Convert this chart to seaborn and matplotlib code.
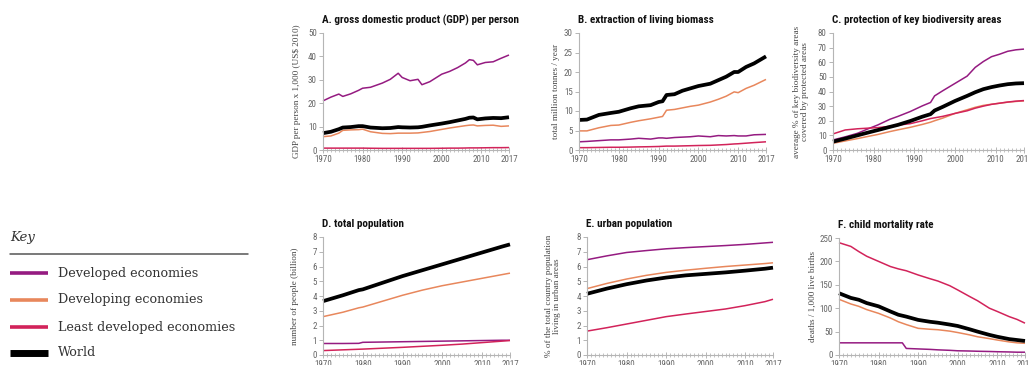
import matplotlib
matplotlib.use("Agg")
import matplotlib.pyplot as plt
import matplotlib.font_manager as fm
from matplotlib.lines import Line2D
from matplotlib.ticker import MultipleLocator, FixedLocator
import pandas as pd
import seaborn as sns

# ---- series values -------------------------------------------------------
groups = ["Developed economies", "Developing economies",
          "Least developed economies", "World"]

gdp_years = [1970, 1972, 1974, 1975, 1977, 1979, 1980, 1982, 1985, 1987, 1989,
             1990, 1992, 1994, 1995, 1997, 2000, 2002, 2004, 2006, 2007, 2008,
             2009, 2011, 2013, 2015, 2017]
gdp_developed = [21.0, 22.6, 23.9, 22.9, 24.0, 25.5, 26.4, 26.8, 28.6, 30.2, 32.8,
                 31.0, 29.6, 30.2, 27.9, 29.2, 32.4, 33.6, 35.2, 37.2, 38.6, 38.3,
                 36.4, 37.4, 37.7, 39.2, 40.6]
gdp_developing = [5.7, 6.0, 7.2, 8.4, 8.6, 8.7, 8.9, 7.8, 7.1, 7.0, 7.2,
                  7.2, 7.2, 7.3, 7.5, 7.9, 8.8, 9.4, 9.9, 10.4, 10.6, 10.7,
                  10.3, 10.5, 10.6, 10.1, 10.3]
gdp_least = [0.8, 0.8, 0.8, 0.8, 0.8, 0.8, 0.8, 0.75, 0.7, 0.7, 0.7,
             0.7, 0.7, 0.7, 0.7, 0.7, 0.75, 0.8, 0.8, 0.85, 0.9, 0.9,
             0.9, 0.95, 1.0, 1.0, 1.05]
gdp_world = [7.2, 7.8, 8.9, 9.6, 9.8, 10.2, 10.2, 9.6, 9.3, 9.4, 9.8,
             9.7, 9.6, 9.7, 9.9, 10.5, 11.3, 11.9, 12.6, 13.3, 13.8, 13.9,
             13.1, 13.5, 13.7, 13.6, 14.0]

bio_years = [1970, 1972, 1975, 1978, 1980, 1983, 1985, 1988, 1990, 1991, 1992,
             1994, 1996, 1998, 2000, 2003, 2005, 2007, 2009, 2010, 2012, 2014, 2017]
bio_developed = [2.1, 2.2, 2.4, 2.6, 2.6, 2.8, 3.0, 2.8, 3.1, 3.1, 3.0,
                 3.2, 3.3, 3.4, 3.6, 3.4, 3.7, 3.6, 3.7, 3.6, 3.6, 3.9, 4.0]
bio_developing = [4.9, 4.9, 5.7, 6.3, 6.4, 7.1, 7.5, 8.0, 8.4, 8.6, 10.2,
                  10.4, 10.8, 11.2, 11.5, 12.3, 13.0, 13.8, 14.9, 14.7, 15.8, 16.6, 18.1]
bio_least = [0.6, 0.6, 0.65, 0.7, 0.7, 0.75, 0.8, 0.85, 0.9, 0.95, 1.0,
             1.0, 1.05, 1.1, 1.15, 1.2, 1.3, 1.4, 1.55, 1.6, 1.75, 1.9, 2.1]
bio_world = [7.7, 7.8, 9.0, 9.5, 9.8, 10.7, 11.2, 11.5, 12.3, 12.5, 14.1,
             14.3, 15.2, 15.8, 16.4, 17.0, 17.9, 18.8, 20.0, 20.0, 21.3, 22.2, 24.0]

kba_years = [1970, 1973, 1976, 1979, 1981, 1984, 1986, 1989, 1992, 1994, 1995,
             1997, 2000, 2003, 2005, 2007, 2009, 2011, 2013, 2015, 2017]
kba_developed = [6.9, 9.0, 11.4, 14.9, 17.1, 21.0, 23.0, 26.3, 30.2, 32.5, 37.0,
                 40.5, 45.5, 50.5, 56.5, 60.5, 63.8, 65.5, 67.5, 68.5, 69.0]
kba_developing = [4.6, 6.2, 7.8, 9.5, 10.6, 12.6, 13.8, 15.5, 17.5, 19.0, 20.0,
                  21.8, 25.0, 27.5, 29.2, 30.5, 31.3, 32.0, 32.7, 33.2, 33.6]
kba_least = [11.0, 13.7, 14.5, 15.0, 15.3, 16.2, 17.0, 18.0, 20.0, 21.5, 22.0,
             23.0, 25.0, 26.8, 28.6, 30.0, 31.2, 32.0, 32.8, 33.4, 33.8]
kba_world = [5.7, 7.8, 10.0, 12.2, 13.6, 15.8, 17.2, 19.8, 22.8, 24.5, 27.0,
             29.5, 33.5, 37.0, 39.5, 41.6, 43.0, 44.1, 45.0, 45.5, 45.7]

pop_years = [1970, 1975, 1979, 1980, 1985, 1990, 1995, 2000, 2005, 2010, 2015, 2017]
pop_developed = [0.78, 0.78, 0.79, 0.86, 0.88, 0.90, 0.92, 0.94, 0.96, 0.98, 1.00, 1.00]
pop_developing = [2.6, 2.9, 3.2, 3.25, 3.65, 4.05, 4.4, 4.7, 4.95, 5.2, 5.45, 5.55]
pop_least = [0.30, 0.35, 0.39, 0.40, 0.46, 0.52, 0.59, 0.66, 0.74, 0.84, 0.94, 0.98]
pop_world = [3.65, 4.05, 4.4, 4.45, 4.9, 5.35, 5.75, 6.15, 6.55, 6.95, 7.35, 7.5]

urb_years = [1970, 1975, 1980, 1985, 1990, 1995, 2000, 2005, 2010, 2015, 2017]
urb_developed = [6.46, 6.72, 6.95, 7.08, 7.2, 7.28, 7.35, 7.42, 7.5, 7.6, 7.64]
urb_developing = [4.5, 4.85, 5.15, 5.4, 5.6, 5.75, 5.88, 6.0, 6.1, 6.2, 6.25]
urb_least = [1.62, 1.85, 2.1, 2.35, 2.6, 2.78, 2.95, 3.12, 3.35, 3.62, 3.78]
urb_world = [4.15, 4.5, 4.8, 5.05, 5.25, 5.4, 5.5, 5.6, 5.72, 5.85, 5.92]

cmr_years = [1970, 1973, 1975, 1977, 1980, 1983, 1985, 1986, 1987, 1990, 1993,
             1995, 1998, 2000, 2003, 2005, 2008, 2010, 2013, 2015, 2017]
cmr_developed = [26, 26, 26, 26, 26, 26, 26, 26, 14, 13, 12,
                 11, 10, 9, 8.5, 8, 7.5, 7, 6.5, 6, 6]
cmr_developing = [119, 109, 104, 97, 89, 79, 71, 68, 65, 57, 55,
                  54, 51, 48, 43, 39, 35, 32, 28, 26, 25]
cmr_least = [240, 232, 221, 211, 200, 189, 184, 182, 180, 171, 163,
             158, 148, 139, 125, 116, 100, 93, 82, 76, 68]
cmr_world = [132, 122, 118, 111, 104, 93, 86, 84, 82, 75, 71,
             69, 65, 62, 55, 50, 43, 39, 34, 32, 30]

x_ticks = [1970, 1980, 1990, 2000, 2010, 2017]

# ---- styling -------------------------------------------------------------
colors = {"Developed economies": "#951b81",
          "Developing economies": "#e8875c",
          "Least developed economies": "#d2235a",
          "World": "#000000"}
widths = {"Developed economies": 1.1, "Developing economies": 1.1,
          "Least developed economies": 1.1, "World": 2.7}

sns.set_theme(style="ticks")
available = {f.name for f in fm.fontManager.ttflist}


def pick(*names):
    for n in names:
        if n in available:
            return n
    return "DejaVu Sans"


narrow = pick("Liberation Sans Narrow", "Roboto Condensed", "Roboto")
label_serif = pick("Liberation Serif", "DejaVu Serif")
key_serif = pick("DejaVu Serif")
plt.rcParams["font.family"] = [narrow, "DejaVu Sans"]

W, H = 1028, 365
fig = plt.figure(figsize=(W / 100, H / 100), dpi=100)


def box(left, top, right, bottom):
    return [left / W, 1 - bottom / H, (right - left) / W, (bottom - top) / H]


panels = [
    dict(pos=box(323, 33, 509, 150), title="A. gross domestic product (GDP) per person",
         ylabel="GDP per person x 1,000 (US$ 2010)", ymax=50, ystep=10, lx=-0.118,
         years=gdp_years, vals=[gdp_developed, gdp_developing, gdp_least, gdp_world]),
    dict(pos=box(579, 33, 766, 150), title="B. extraction of living biomass",
         ylabel="total million tonnes / year", ymax=30, ystep=5, lx=-0.10,
         years=bio_years, vals=[bio_developed, bio_developing, bio_least, bio_world]),
    dict(pos=box(833, 33, 1024, 150), title="C. protection of key biodiversity areas",
         ylabel="average % of key biodiversity areas\ncovered by protected areas",
         ymax=80, ystep=10, lx=-0.126,
         years=kba_years, vals=[kba_developed, kba_developing, kba_least, kba_world]),
    dict(pos=box(323, 237, 510, 355), title="D. total population",
         ylabel="number of people (billion)", ymax=8, ystep=1, lx=-0.128,
         years=pop_years, vals=[pop_developed, pop_developing, pop_least, pop_world]),
    dict(pos=box(587, 237, 773, 355), title="E. urban population",
         ylabel="% of the total country population\nliving in urban areas",
         ymax=8, ystep=1, lx=-0.14,
         years=urb_years, vals=[urb_developed, urb_developing, urb_least, urb_world]),
    dict(pos=box(839, 238, 1025, 355), title="F. child mortality rate",
         ylabel="deaths / 1,000 live births", ymax=250, ystep=50, lx=-0.118,
         years=cmr_years, vals=[cmr_developed, cmr_developing, cmr_least, cmr_world]),
]

for p in panels:
    ax = fig.add_axes(p["pos"])
    for g, v in zip(groups, p["vals"]):
        df = pd.DataFrame({"year": p["years"], "value": v})
        sns.lineplot(data=df, x="year", y="value", ax=ax, color=colors[g],
                     linewidth=widths[g], solid_capstyle="butt", clip_on=False)
    ax.set_xlim(1970, 2017)
    ax.set_ylim(0, p["ymax"])
    ax.xaxis.set_major_locator(FixedLocator(x_ticks))
    ax.xaxis.set_minor_locator(MultipleLocator(1))
    ax.yaxis.set_major_locator(MultipleLocator(p["ystep"]))
    ax.set_xlabel("")
    ax.set_ylabel(p["ylabel"], family=label_serif, fontsize=6.6, color="#444444",
                  linespacing=1.0)
    ax.yaxis.set_label_coords(p["lx"], 0.5)
    ax.tick_params(axis="both", which="major", labelsize=6.5, colors="#aaaaaa",
                   labelcolor="#666666", length=3, width=0.6, pad=1.5)
    ax.tick_params(axis="x", which="major", direction="inout", length=4)
    ax.tick_params(axis="x", which="minor", direction="inout", length=2.5,
                   width=0.5, colors="#aaaaaa")
    for s in ("top", "right"):
        ax.spines[s].set_visible(False)
    for s in ("left", "bottom"):
        ax.spines[s].set_color("#b5b5b5")
        ax.spines[s].set_linewidth(0.8)
    ax.set_title(p["title"], loc="left", fontsize=8.0, fontweight="bold",
                 color="#111111", pad=7, x=-0.005)

# ---- key -----------------------------------------------------------------
fig.text(10 / W, 1 - 238 / H, "Key", family=key_serif, style="italic", fontsize=9.5,
         color="#333333", va="center")
fig.add_artist(Line2D([10 / W, 248 / W], [1 - 254 / H, 1 - 254 / H],
                      color="#555555", linewidth=1.1))
for g, yy in zip(groups, [273, 300, 327, 353]):
    lw = 5.0 if g == "World" else 2.6
    fig.add_artist(Line2D([10 / W, 48 / W], [1 - yy / H, 1 - yy / H],
                          color=colors[g], linewidth=lw, solid_capstyle="butt"))
    fig.text(58 / W, 1 - yy / H, g, family=key_serif, fontsize=9.2,
             color="#333333", va="center")

fig.savefig("out.png", dpi=100)
